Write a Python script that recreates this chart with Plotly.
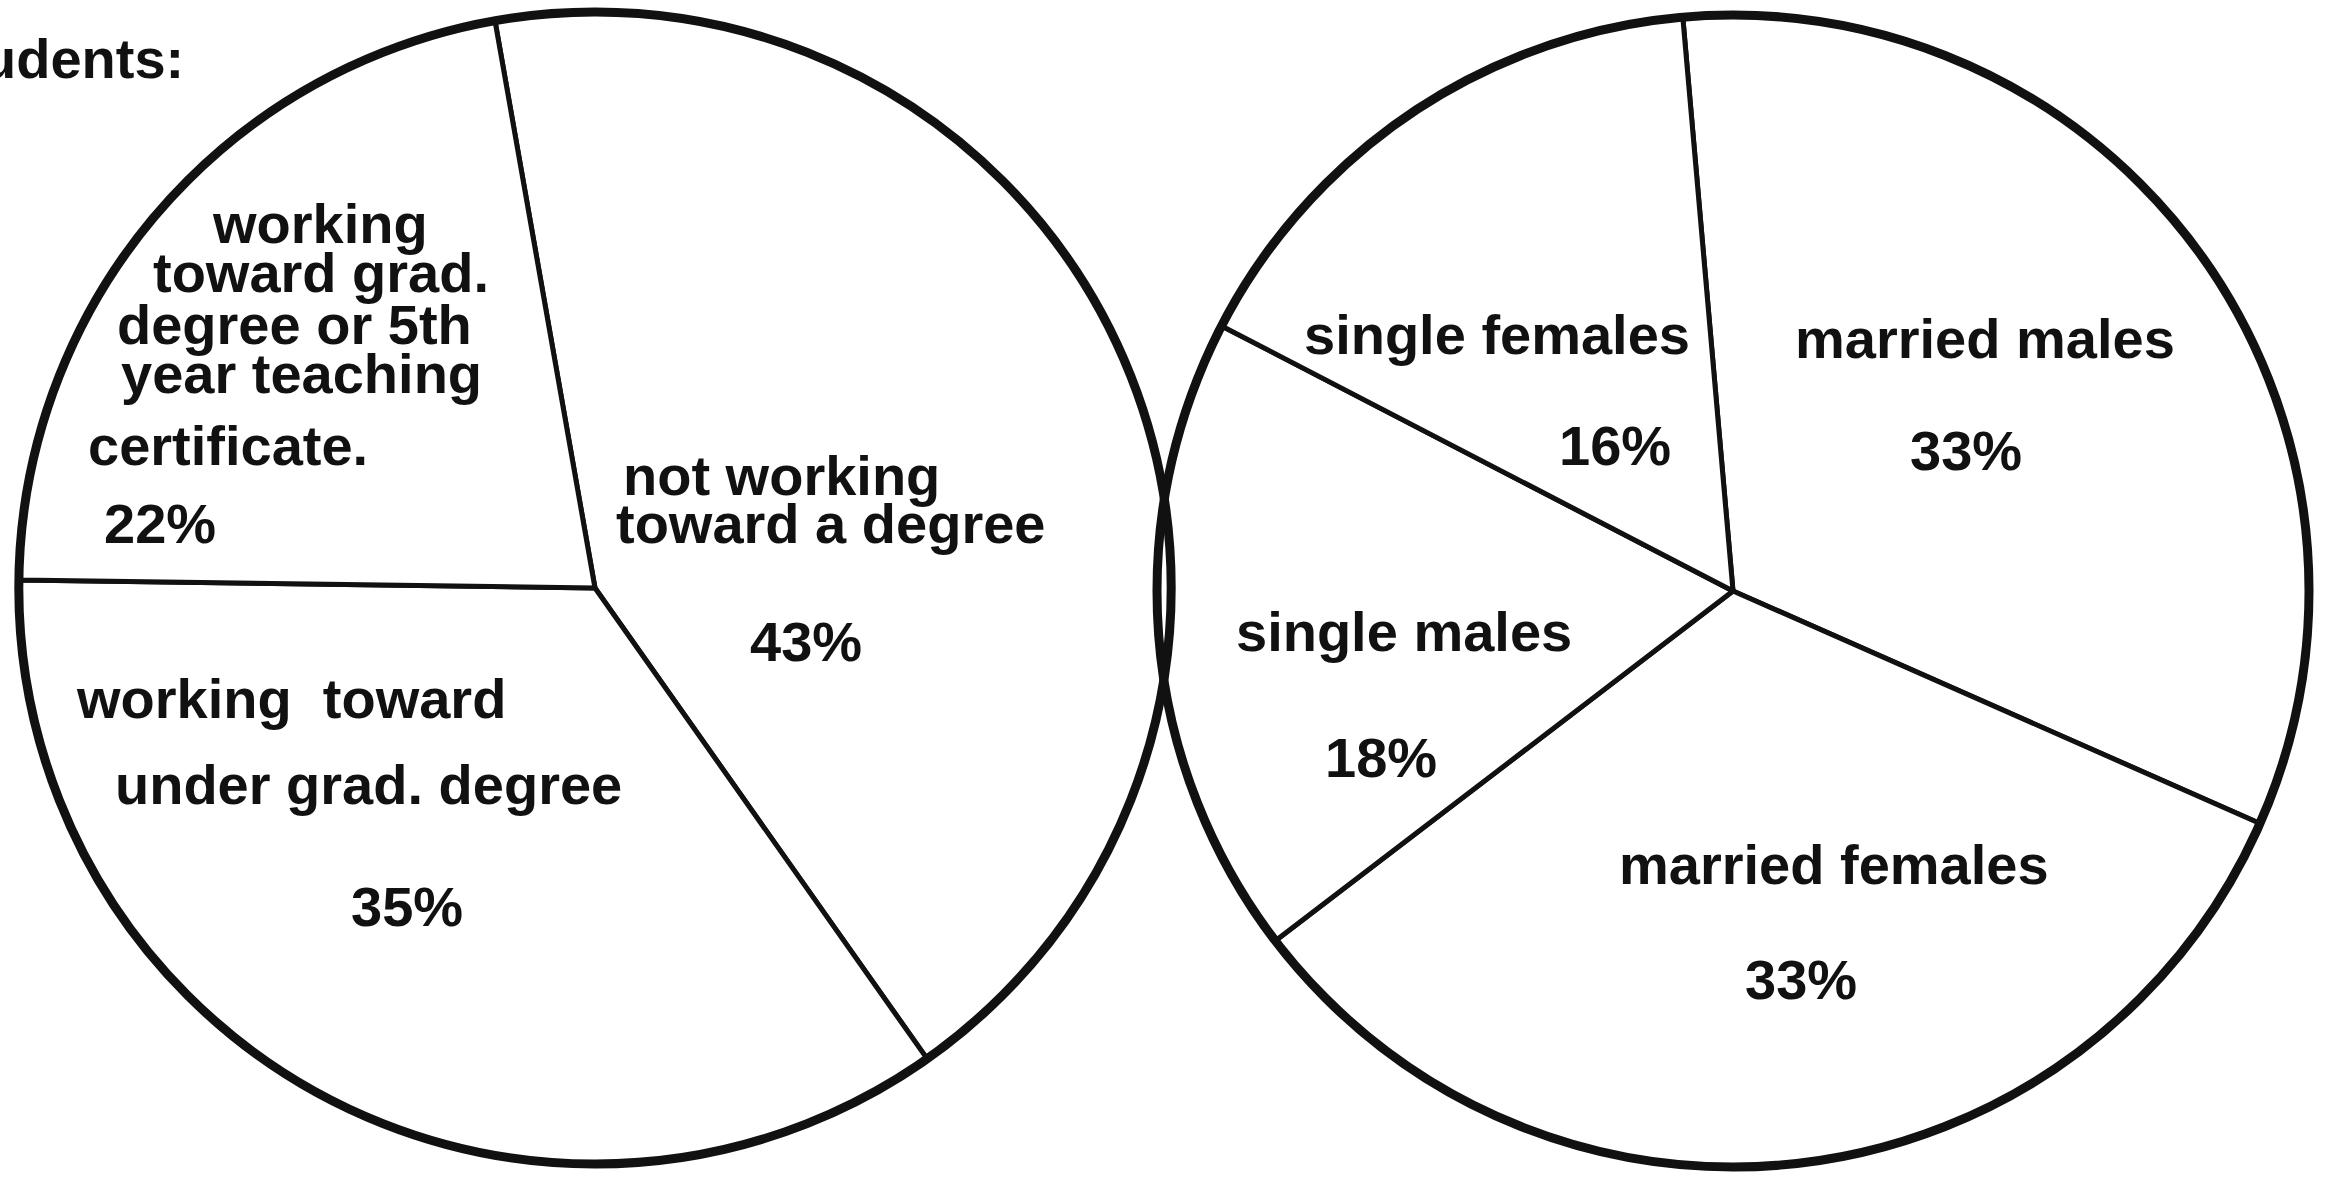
import plotly.graph_objects as go

# ---------------- data ----------------
edu_labels = [
    "not working toward a degree",
    "working toward under grad. degree",
    "working toward grad. degree or 5th year teaching certificate.",
]
edu_values = [43, 35, 22]
edu_label_lines = [
    ["not working", "toward a degree"],
    ["working  toward", "under grad. degree"],
    ["working", "toward grad.", "degree or 5th", "year teaching", "certificate."],
]

status_labels = ["married males", "married females", "single males", "single females"]
status_values = [33, 33, 18, 16]
status_label_lines = [
    ["married males"],
    ["married females"],
    ["single males"],
    ["single females"],
]

header_text = "Students:"

# ---------------- layout / style ----------------
W, H = 2328, 1181
FONT = "Liberation Sans, Arial, Helvetica, sans-serif"
FSIZE = 56
INK = "#111111"


def dom(cx, cy, r):
    return dict(x=[(cx - r) / W, (cx + r) / W], y=[1 - (cy + r) / H, 1 - (cy - r) / H])


left_dom = dom(595, 588, 576)
right_dom = dom(1733, 591, 576)

fig = go.Figure()

# slices
fig.add_trace(go.Pie(
    labels=edu_labels, values=edu_values, domain=left_dom,
    sort=False, direction="clockwise", rotation=-10,
    textinfo="none", showlegend=False,
    marker=dict(colors=["white"] * len(edu_values), line=dict(color=INK, width=5)),
))
fig.add_trace(go.Pie(
    labels=status_labels, values=status_values, domain=right_dom,
    sort=False, direction="clockwise", rotation=-5,
    textinfo="none", showlegend=False,
    marker=dict(colors=["white"] * len(status_values), line=dict(color=INK, width=5)),
))
# heavier outer rims (one-slice pies with the totals)
for d, vals in ((left_dom, edu_values), (right_dom, status_values)):
    fig.add_trace(go.Pie(
        labels=["total"], values=[sum(vals)], domain=d, sort=False,
        textinfo="none", showlegend=False, hoverinfo="skip",
        marker=dict(colors=["rgba(0,0,0,0)"], line=dict(color=INK, width=9)),
    ))

# label placement (pixel positions of each text line, centre anchored)
edu_line_pos = [
    [(782, 475), (830, 523)],
    [(291, 698), (368, 784)],
    [(320, 223), (321, 272), (294, 324), (301, 373), (228, 445)],
]
edu_pct_pos = [(806, 641), (407, 906), (160, 523)]

status_line_pos = [
    [(1985, 338)],
    [(1834, 864)],
    [(1404, 631)],
    [(1497, 334)],
]
status_pct_pos = [(1966, 450), (1801, 980), (1381, 757), (1615, 445)]

annotations = []


def add_text(txt, px, py, xanchor="center"):
    annotations.append(dict(
        text=txt, x=px / W, y=1 - py / H, xref="paper", yref="paper",
        xanchor=xanchor, yanchor="middle", showarrow=False,
        font=dict(family=FONT, size=FSIZE, color=INK, weight="bold"),
    ))


for lines, poss, v, ppos in zip(edu_label_lines, edu_line_pos, edu_values, edu_pct_pos):
    for t, (px, py) in zip(lines, poss):
        add_text(t, px, py)
    add_text(f"{v}%", *ppos)

for lines, poss, v, ppos in zip(status_label_lines, status_line_pos, status_values, status_pct_pos):
    for t, (px, py) in zip(lines, poss):
        add_text(t, px, py)
    add_text(f"{v}%", *ppos)

add_text(header_text, 186, 59, xanchor="right")

fig.update_layout(
    width=W, height=H,
    margin=dict(l=0, r=0, t=0, b=0),
    paper_bgcolor="white", plot_bgcolor="white",
    annotations=annotations,
    showlegend=False,
)

fig.write_html("out.html")
